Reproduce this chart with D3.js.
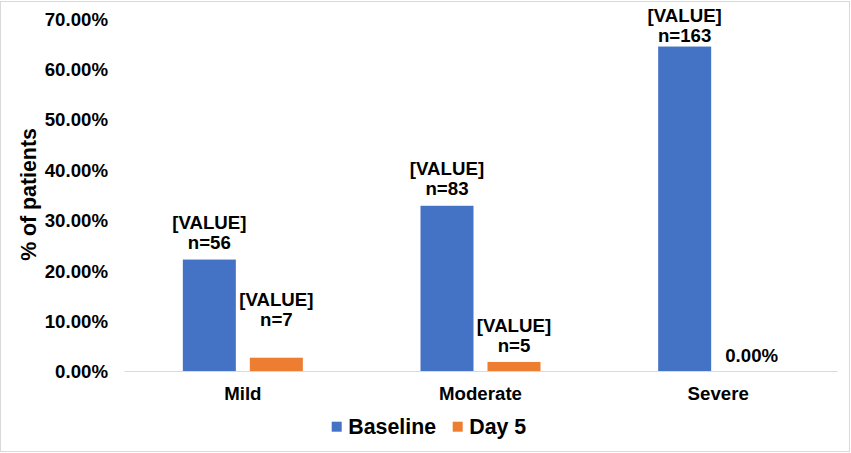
<!DOCTYPE html>
<html>
<head>
<meta charset="utf-8">
<script src="https://cdn.jsdelivr.net/npm/d3@7"></script>
<style>
  body { margin: 0; background: #fff; }
  svg text { font-family: "Liberation Sans", Arial, sans-serif; font-weight: bold; fill: #000; }
</style>
</head>
<body>
<div id="chart"></div>
<script>
// chart data
var categories = ["Mild", "Moderate", "Severe"];
var seriesNames = ["Baseline", "Day 5"];
var baselineValues = [0.2213, 0.3281, 0.6443];
var day5Values = [0.0264, 0.018, 0];
var baselineCounts = [56, 83, 163];
var day5Counts = [7, 5, null];
var yTicks = [0, 0.1, 0.2, 0.3, 0.4, 0.5, 0.6, 0.7];

var colors = {"Baseline": "#4472C4", "Day 5": "#ED7D31"};

var width = 851, height = 453;
var plot = {left: 124, right: 837, top: 18.5, bottom: 371};

var svg = d3.select("#chart")
  .append("svg")
    .attr("width", width)
    .attr("height", height);

// outer chart border
svg.append("rect")
  .attr("x", 0.5).attr("y", 1.5)
  .attr("width", 849).attr("height", 450)
  .attr("fill", "none")
  .attr("stroke", "#D9D9D9");

var x = d3.scaleBand()
  .domain(categories)
  .range([plot.left, plot.right]);

var xInner = d3.scaleBand()
  .domain(seriesNames)
  .range([0, x.bandwidth()])
  .paddingInner(0.209)
  .paddingOuter(0.878);

var y = d3.scaleLinear()
  .domain([0, 0.7])
  .range([plot.bottom, plot.top]);

var fmt = d3.format(".2%");

// build rows from the arrays
var rows = [];
categories.forEach(function(c, i) {
  rows.push({cat: c, series: "Baseline", value: baselineValues[i], n: baselineCounts[i]});
  rows.push({cat: c, series: "Day 5", value: day5Values[i], n: day5Counts[i]});
});

// y axis labels (no line, no ticks)
var yAxis = svg.append("g")
  .attr("transform", "translate(108,0)")
  .call(d3.axisLeft(y).tickValues(yTicks).tickFormat(fmt).tickSize(0).tickPadding(0));
yAxis.select(".domain").remove();
yAxis.selectAll("text")
  .attr("x", 0)
  .attr("dy", "0.36em")
  .style("font-size", "18.67px")
  .style("font-family", "'Liberation Sans', Arial, sans-serif")
  .style("font-weight", "bold")
  .attr("fill", "#000");

// bars
svg.append("g").selectAll("rect")
  .data(rows)
  .enter().append("rect")
    .attr("x", function(d) { return x(d.cat) + xInner(d.series); })
    .attr("y", function(d) { return y(d.value); })
    .attr("width", xInner.bandwidth())
    .attr("height", function(d) { return y(0) - y(d.value); })
    .attr("fill", function(d) { return colors[d.series]; });

// x axis
var xAxis = svg.append("g")
  .attr("transform", "translate(0," + plot.bottom + ")")
  .call(d3.axisBottom(x).tickSize(0).tickSizeOuter(0));
xAxis.select(".domain").attr("stroke", "#D9D9D9").attr("stroke-width", 1);
xAxis.selectAll("text")
  .attr("y", 29)
  .attr("dy", 0)
  .style("font-size", "18.67px")
  .style("font-family", "'Liberation Sans', Arial, sans-serif")
  .style("font-weight", "bold")
  .attr("fill", "#000");

// data labels
var labelNudge = {"Mild|Day 5": -21};
var labels = svg.append("g")
  .style("font-size", "18.67px")
  .attr("text-anchor", "middle");

rows.forEach(function(d) {
  var cx = x(d.cat) + xInner(d.series) + xInner.bandwidth() / 2;
  var top = y(d.value);
  var t = labels.append("text").attr("x", cx);
  if (d.n == null) {
    t.attr("y", top - 9).text(fmt(d.value));
    return;
  }
  var first = top - 37 + (labelNudge[d.cat + "|" + d.series] || 0);
  if (first < 15) first = 15;
  t.append("tspan").attr("x", cx).attr("y", first + 6.7).text("[VALUE]");
  t.append("tspan").attr("x", cx).attr("y", first + 26.7).text("n=" + d.n);
});

// y axis title
svg.append("text")
  .attr("transform", "translate(36,194.5) rotate(-90)")
  .attr("text-anchor", "middle")
  .style("font-size", "21.33px")
  .text("% of patients");

// legend
var legendPos = [331.7, 452.7];
var legend = svg.append("g");
seriesNames.forEach(function(s, i) {
  legend.append("rect")
    .attr("x", legendPos[i]).attr("y", 421.7)
    .attr("width", 10).attr("height", 10)
    .attr("fill", colors[s]);
  legend.append("text")
    .attr("x", legendPos[i] + 16.6).attr("y", 434.3)
    .style("font-size", "21.33px")
    .text(s);
});
</script>
</body>
</html>
